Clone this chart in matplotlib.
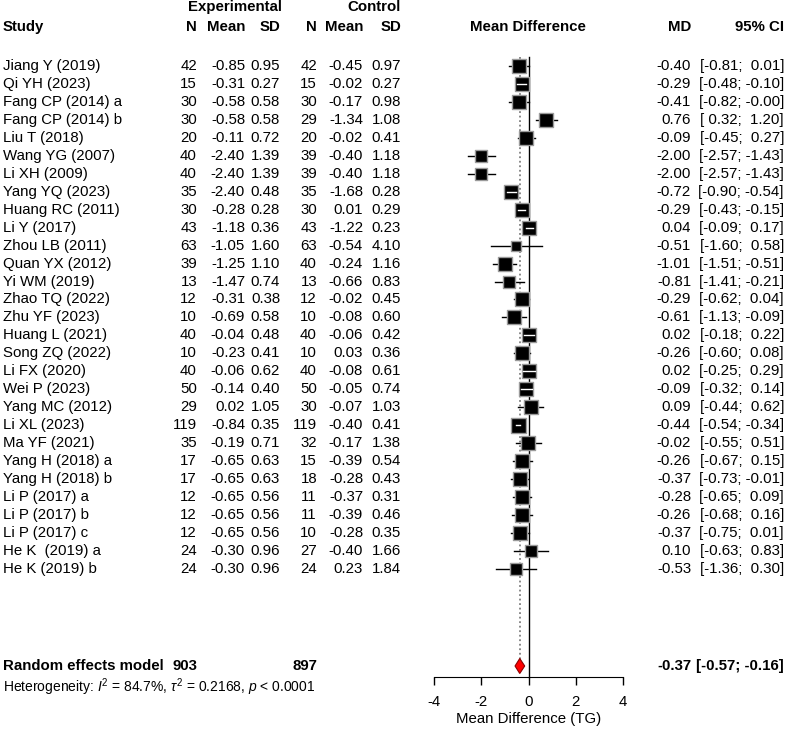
import matplotlib
matplotlib.use("Agg")
import matplotlib.pyplot as plt
import matplotlib.transforms as mtransforms
from matplotlib.patches import Polygon
import numpy as np

plt.rcParams['font.family'] = ['Liberation Sans', 'DejaVu Sans']
plt.rcParams['mathtext.fontset'] = 'custom'
plt.rcParams['mathtext.rm'] = 'Liberation Sans'
plt.rcParams['mathtext.it'] = 'Liberation Sans:italic'

# Study data
studies = ["Jiang Y (2019)", "Qi YH (2023)", "Fang CP (2014) a", "Fang CP (2014) b",
           "Liu T (2018)", "Wang YG (2007)", "Li XH (2009)", "Yang YQ (2023)",
           "Huang RC (2011)", "Li Y (2017)", "Zhou LB (2011)", "Quan YX (2012)",
           "Yi WM (2019)", "Zhao TQ (2022)", "Zhu YF (2023)", "Huang L (2021)",
           "Song ZQ (2022)", "Li FX (2020)", "Wei P (2023)", "Yang MC (2012)",
           "Li XL (2023)", "Ma YF (2021)", "Yang H (2018) a", "Yang H (2018) b",
           "Li P (2017) a", "Li P (2017) b", "Li P (2017) c", "He K  (2019) a",
           "He K (2019) b"]
n_e = [42, 15, 30, 30, 20, 40, 40, 35, 30, 43, 63, 39, 13, 12, 10, 40, 10, 40, 50, 29,
       119, 35, 17, 17, 12, 12, 12, 24, 24]
mean_e = [-0.85, -0.31, -0.58, -0.58, -0.11, -2.40, -2.40, -2.40, -0.28, -1.18, -1.05,
          -1.25, -1.47, -0.31, -0.69, -0.04, -0.23, -0.06, -0.14, 0.02, -0.84, -0.19,
          -0.65, -0.65, -0.65, -0.65, -0.65, -0.30, -0.30]
sd_e = [0.95, 0.27, 0.58, 0.58, 0.72, 1.39, 1.39, 0.48, 0.28, 0.36, 1.60, 1.10, 0.74,
        0.38, 0.58, 0.48, 0.41, 0.62, 0.40, 1.05, 0.35, 0.71, 0.63, 0.63, 0.56, 0.56,
        0.56, 0.96, 0.96]
n_c = [42, 15, 30, 29, 20, 39, 39, 35, 30, 43, 63, 40, 13, 12, 10, 40, 10, 40, 50, 30,
       119, 32, 15, 18, 11, 11, 10, 27, 24]
mean_c = [-0.45, -0.02, -0.17, -1.34, -0.02, -0.40, -0.40, -1.68, 0.01, -1.22, -0.54,
          -0.24, -0.66, -0.02, -0.08, -0.06, 0.03, -0.08, -0.05, -0.07, -0.40, -0.17,
          -0.39, -0.28, -0.37, -0.39, -0.28, -0.40, 0.23]
sd_c = [0.97, 0.27, 0.98, 1.08, 0.41, 1.18, 1.18, 0.28, 0.29, 0.23, 4.10, 1.16, 0.83,
        0.45, 0.60, 0.42, 0.36, 0.61, 0.74, 1.03, 0.41, 1.38, 0.54, 0.43, 0.31, 0.46,
        0.35, 1.66, 1.84]
md = [-0.40, -0.29, -0.41, 0.76, -0.09, -2.00, -2.00, -0.72, -0.29, 0.04, -0.51, -1.01,
      -0.81, -0.29, -0.61, 0.02, -0.26, 0.02, -0.09, 0.09, -0.44, -0.02, -0.26, -0.37,
      -0.28, -0.26, -0.37, 0.10, -0.53]
ci_lo = [-0.81, -0.48, -0.82, 0.32, -0.45, -2.57, -2.57, -0.90, -0.43, -0.09, -1.60,
         -1.51, -1.41, -0.62, -1.13, -0.18, -0.60, -0.25, -0.32, -0.44, -0.54, -0.55,
         -0.67, -0.73, -0.65, -0.68, -0.75, -0.63, -1.36]
ci_hi = [0.01, -0.10, -0.0, 1.20, 0.27, -1.43, -1.43, -0.54, -0.15, 0.17, 0.58, -0.51,
         -0.21, 0.04, -0.09, 0.22, 0.08, 0.29, 0.14, 0.62, -0.34, 0.51, 0.15, -0.01, 0.09,
         0.16, 0.01, 0.83, 0.30]

# pooled result
total_e = 903
total_c = 897
pooled_md = -0.37
pooled_lo = -0.57
pooled_hi = -0.16
tau2 = 0.2168

W, H = 788, 733
fs = 10.8

fig = plt.figure(figsize=(W / 100, H / 100), dpi=100)

# forest panel: x -4..4, rows counted downward
ax = fig.add_axes([434 / W, (H - 677) / H, (623 - 434) / W, (677 - 40) / H])
row_h = 17.96
ax.set_xlim(-4, 4)
ax.set_ylim((677 - 66) / row_h, (40 - 66) / row_h)
for s in ['top', 'right', 'left']:
    ax.spines[s].set_visible(False)
ax.set_yticks([])
ax.set_xticks([-4, -2, 0, 2, 4])
ax.set_xticklabels(["-4", "-2", "0", "2", "4"])
ax.tick_params(axis='x', length=6, width=1, labelsize=fs, pad=7)
ax.set_xlabel("Mean Difference (TG)", fontsize=fs, labelpad=2)
ax.patch.set_alpha(0)

rows = np.arange(len(studies))
sum_row = (666 - 66) / row_h
het_row = (687 - 66) / row_h
top_row = (57 - 66) / row_h

# reference lines
ax.plot([0, 0], [top_row, ax.get_ylim()[0]], color='black', lw=1, clip_on=False)
ax.plot([pooled_md, pooled_md], [top_row, sum_row - 0.35], color='gray', lw=1.3,
        ls=(0, (1, 1.5)), clip_on=False)

# box sizes from random-effects weights
se2 = np.array(sd_e) ** 2 / np.array(n_e) + np.array(sd_c) ** 2 / np.array(n_c)
w = 1 / (se2 + tau2)
side_px = 15 * np.sqrt(w / w.max())
unit_px = (623 - 434) / 8.0

for i in range(len(studies)):
    ax.plot([ci_lo[i], ci_hi[i]], [rows[i], rows[i]], color='black', lw=1)
    ax.scatter([md[i]], [rows[i]], marker='s', s=(side_px[i] * 0.72) ** 2,
               facecolor='black', edgecolor='#9a9a9a', linewidths=1, zorder=3)
    half = side_px[i] / 2 / unit_px
    if ci_lo[i] > md[i] - half and ci_hi[i] < md[i] + half:
        ax.plot([ci_lo[i], ci_hi[i]], [rows[i], rows[i]], color='white', lw=1, zorder=4)

# pooled diamond
dh = 7.5 / row_h
ax.add_patch(Polygon([[pooled_lo, sum_row], [pooled_md, sum_row - dh],
                      [pooled_hi, sum_row], [pooled_md, sum_row + dh]],
                     closed=True, facecolor='red', edgecolor='#8b0000', lw=0.8,
                     clip_on=False, zorder=4))

# text columns
tr = mtransforms.blended_transform_factory(fig.transFigure, ax.transData)


def txt(xpx, y, s, ha='right', bold=False, size=fs):
    ax.text(xpx / W, y, s, transform=tr, ha=ha, va='center', fontsize=size,
            fontweight='bold' if bold else 'normal', clip_on=False)


cols = [197, 245, 280, 317, 363, 401]
hdr1 = (7 - 66) / row_h
hdr2 = (27 - 66) / row_h
txt(282, hdr1, "Experimental", bold=True)
txt(401, hdr1, "Control", bold=True)
txt(3, hdr2, "Study", ha='left', bold=True)
for xpx, lab in zip(cols, ["N", "Mean", "SD", "N", "Mean", "SD"]):
    txt(xpx, hdr2, lab, bold=True)
txt(528, hdr2, "Mean Difference", ha='center', bold=True)
txt(691, hdr2, "MD", bold=True)
txt(784, hdr2, "95% CI", bold=True)

for i in range(len(studies)):
    y = rows[i]
    txt(3, y, studies[i], ha='left')
    txt(cols[0], y, str(n_e[i]))
    txt(cols[1], y, f"{mean_e[i]:.2f}")
    txt(cols[2], y, f"{sd_e[i]:.2f}")
    txt(cols[3], y, str(n_c[i]))
    txt(cols[4], y, f"{mean_c[i]:.2f}")
    txt(cols[5], y, f"{sd_c[i]:.2f}")
    txt(691, y, f"{md[i]:.2f}")
    txt(784, y, f"[{ci_lo[i]:5.2f}; {ci_hi[i]:5.2f}]")

txt(3, sum_row, "Random effects model", ha='left', bold=True)
txt(cols[0], sum_row, str(total_e), bold=True)
txt(cols[3], sum_row, str(total_c), bold=True)
txt(691, sum_row, f"{pooled_md:.2f}", bold=True)
txt(784, sum_row, f"[{pooled_lo:5.2f}; {pooled_hi:5.2f}]", bold=True)
txt(3, het_row, r"Heterogeneity: $I^2$ = 84.7%, $\tau^2$ = 0.2168, $p$ < 0.0001",
    ha='left', size=10)

fig.savefig("out.png", dpi=100)
